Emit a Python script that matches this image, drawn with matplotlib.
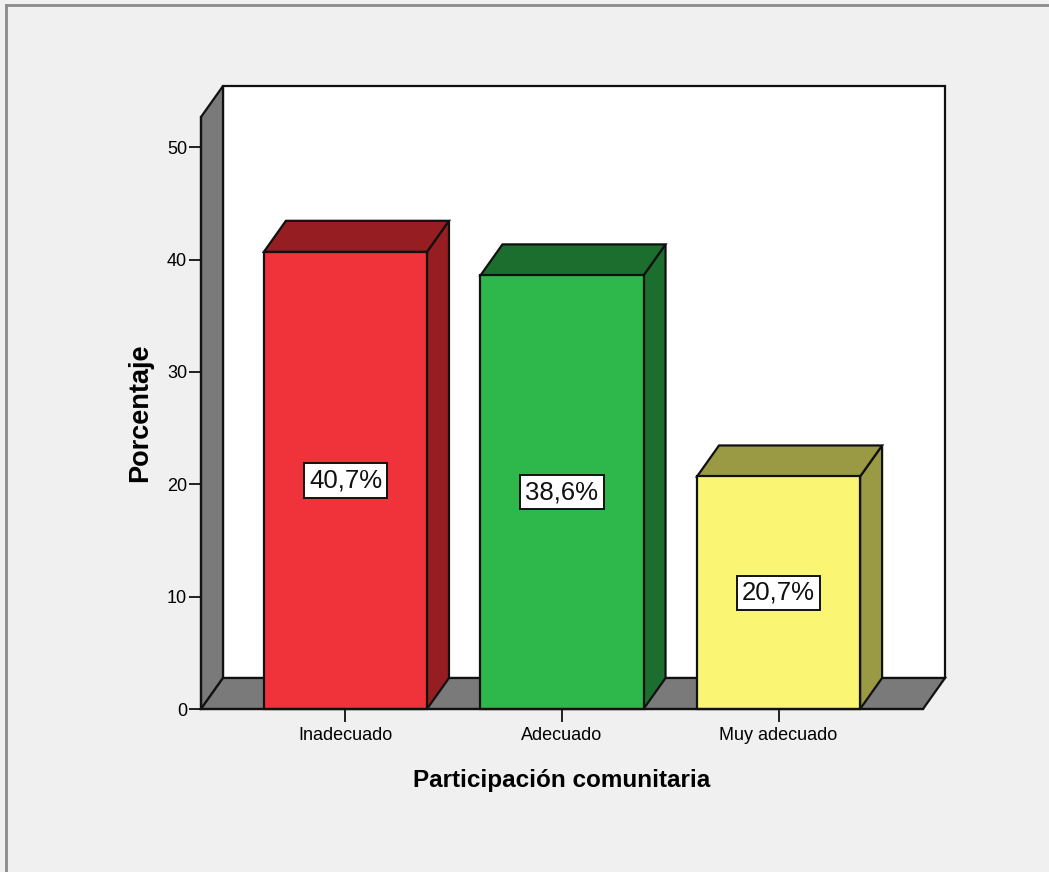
import matplotlib
matplotlib.use('Agg')
import matplotlib.pyplot as plt
from matplotlib.patches import Polygon, Rectangle
from matplotlib.lines import Line2D

plt.rcParams['font.family'] = ['Liberation Sans', 'DejaVu Sans']

# Data
categories = ['Inadecuado', 'Adecuado', 'Muy adecuado']
percentages = [40.7, 38.6, 20.7]
labels = ['40,7%', '38,6%', '20,7%']
front_colors = ['#F0323A', '#2EB84B', '#FAF573']
dark_colors = ['#961E22', '#1B6E2D', '#9A9A45']
y_ticks = [0, 10, 20, 30, 40, 50]

BG = '#F0F0F0'
WALL = '#7A7A7A'
EDGE = '#111111'

W, H = 1049, 872
fig = plt.figure(figsize=(W / 100, H / 100), dpi=100, facecolor=BG)

# front plane of the 3D box, in pixels
left_px, right_px, bot_px, top_px = 201, 923, 709, 117
ax = fig.add_axes([left_px / W, 1 - bot_px / H,
                   (right_px - left_px) / W, (bot_px - top_px) / H])
ax.set_facecolor('none')

xmin, xmax = -0.667, 2.667
ymin, ymax = 0, 52.7
ax.set_xlim(xmin, xmax)
ax.set_ylim(ymin, ymax)

# depth offset (22 px right, 31 px up) in data units
px_x = (xmax - xmin) / (right_px - left_px)
px_y = (ymax - ymin) / (bot_px - top_px)
dx, dy = 22 * px_x, 31 * px_y

lw = 1.6
common = dict(edgecolor=EDGE, linewidth=lw, clip_on=False, joinstyle='miter')

# back wall
ax.add_patch(Rectangle((xmin + dx, ymin + dy), xmax - xmin, ymax - ymin,
                       facecolor='white', zorder=1, **common))
# left wall
ax.add_patch(Polygon([(xmin, ymin), (xmin, ymax), (xmin + dx, ymax + dy), (xmin + dx, ymin + dy)],
                     closed=True, facecolor=WALL, zorder=2, **common))
# floor
ax.add_patch(Polygon([(xmin, ymin), (xmax, ymin), (xmax + dx, ymin + dy), (xmin + dx, ymin + dy)],
                     closed=True, facecolor=WALL, zorder=2, **common))

bar_w = 0.753
for i, (v, lab, fc, dc) in enumerate(zip(percentages, labels, front_colors, dark_colors)):
    x0, x1 = i - bar_w / 2, i + bar_w / 2
    # side
    ax.add_patch(Polygon([(x1, 0), (x1 + dx, dy), (x1 + dx, v + dy), (x1, v)],
                         closed=True, facecolor=dc, zorder=3, **common))
    # top
    ax.add_patch(Polygon([(x0, v), (x1, v), (x1 + dx, v + dy), (x0 + dx, v + dy)],
                         closed=True, facecolor=dc, zorder=3, **common))
    # front
    ax.add_patch(Rectangle((x0, 0), bar_w, v, facecolor=fc, zorder=4, **common))
    ax.text(i, v / 2, lab, ha='center', va='center', fontsize=18.5, color='#111111', zorder=5,
            bbox=dict(boxstyle='square,pad=0.2', facecolor='white', edgecolor=EDGE, linewidth=1.4))

for s in ['top', 'right']:
    ax.spines[s].set_visible(False)
for s in ['left', 'bottom']:
    ax.spines[s].set_linewidth(lw)
    ax.spines[s].set_color(EDGE)
    ax.spines[s].set_zorder(6)

ax.set_yticks(y_ticks)
ax.set_yticklabels([str(t) for t in y_ticks])
ax.set_xticks(range(len(categories)))
ax.set_xticklabels(categories)
ax.tick_params(axis='y', direction='out', length=9, width=1.3, color=EDGE, labelsize=13, pad=1)
ax.tick_params(axis='x', direction='out', length=9, width=1.3, color=EDGE, labelsize=13, pad=4)

ax.set_ylabel('Porcentaje', fontsize=19.5, fontweight='bold', labelpad=10)
ax.set_xlabel('Participación comunitaria', fontsize=17.5, fontweight='bold', labelpad=18)

# outer frame (top and left edges visible)
fig.add_artist(Line2D([6 / W, 1], [1 - 5 / H, 1 - 5 / H], color='#8C8C8C', linewidth=2,
                      transform=fig.transFigure))
fig.add_artist(Line2D([6 / W, 6 / W], [0, 1 - 5 / H], color='#8C8C8C', linewidth=2,
                      transform=fig.transFigure))

fig.savefig('out.png', dpi=100, facecolor=BG)
